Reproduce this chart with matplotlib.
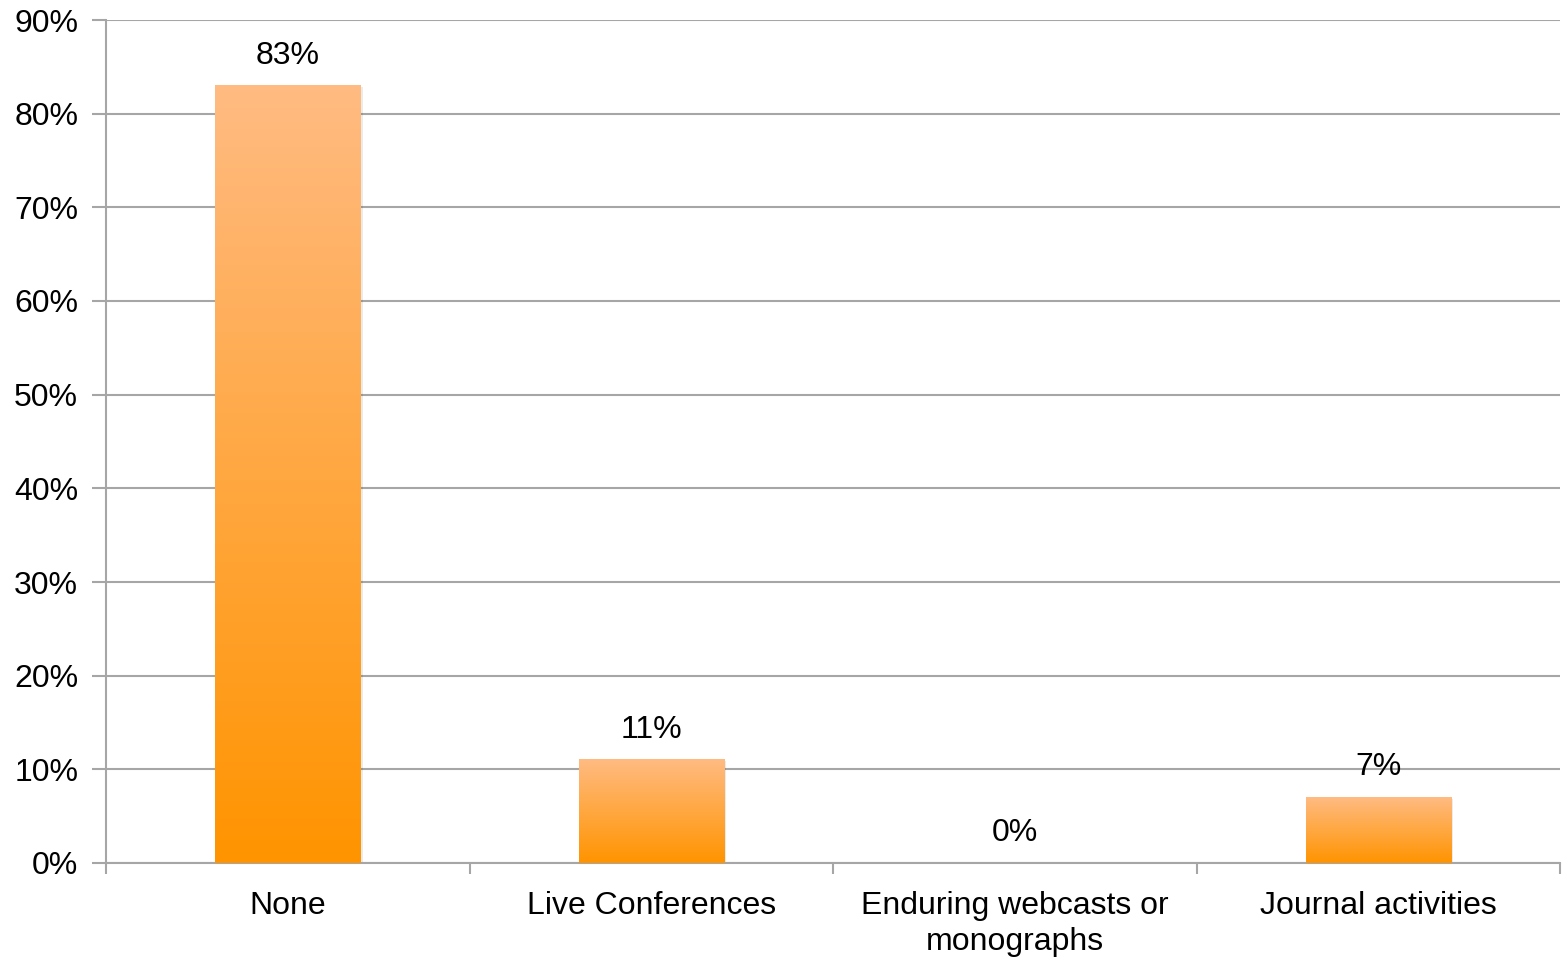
import numpy as np
import matplotlib
matplotlib.use("Agg")
from matplotlib import pyplot as plt
from matplotlib.colors import LinearSegmentedColormap
from matplotlib.patches import Rectangle

plt.rcParams['font.family'] = ['Liberation Sans', 'DejaVu Sans']

categories = ["None", "Live Conferences", "Enduring webcasts or\nmonographs", "Journal activities"]
values = [83, 11, 0, 7]
labels = ["83%", "11%", "0%", "7%"]
yticks = [0, 10, 20, 30, 40, 50, 60, 70, 80, 90]

grid_col = "#A6A6A6"
fs = 23
cmap = LinearSegmentedColormap.from_list("orange_grad", ["#FF9400", "#FFBB82"])

fig = plt.figure(figsize=(15.67, 9.58), dpi=100)
ax = fig.add_axes([106/1567, 95/958, (1560-106)/1567, (863-20)/958])

x = np.arange(len(categories))
width = 0.4
bars = ax.bar(x, values, width=width, color="none", edgecolor="none", zorder=3)

grad = np.linspace(0, 1, 256).reshape(-1, 1)
for b in bars:
    x0, y0 = b.get_x(), b.get_y()
    w, h = b.get_width(), b.get_height()
    if h <= 0:
        continue
    # soft shadow
    sh = Rectangle((x0 + 0.006, y0 - 0.15), w, h, facecolor="#000000", alpha=0.08,
                   edgecolor="none", zorder=2)
    ax.add_patch(sh)
    ax.imshow(grad, extent=[x0, x0 + w, y0, y0 + h], origin="lower", aspect="auto",
              cmap=cmap, zorder=3, interpolation="bicubic")

for xi, v, lab in zip(x, values, labels):
    ax.text(xi, v + 3.2, lab, ha="center", va="center", fontsize=fs, color="#000000", zorder=4)

ax.set_xlim(-0.5, len(categories) - 0.5)
ax.set_ylim(0, 90)
ax.set_yticks(yticks)
ax.set_yticklabels([f"{t}%" for t in yticks], fontsize=fs)
ax.yaxis.grid(True, color=grid_col, linewidth=1.5, zorder=0)
ax.set_axisbelow(True)

# category labels at centers, tick marks at boundaries
ax.set_xticks(x)
ax.set_xticklabels(categories, fontsize=fs, linespacing=1.25)
ax.tick_params(axis="x", which="major", length=0, pad=20)
ax.set_xticks(np.arange(-0.5, len(categories)), minor=True)
ax.tick_params(axis="x", which="minor", length=8, width=1.5, color=grid_col)
ax.tick_params(axis="y", length=10, width=1.5, color=grid_col, pad=10)

for s in ["top", "right"]:
    ax.spines[s].set_visible(False)
for s in ["left", "bottom"]:
    ax.spines[s].set_color(grid_col)
    ax.spines[s].set_linewidth(1.5)

fig.savefig("out.png", dpi=100)
plt.close(fig)
